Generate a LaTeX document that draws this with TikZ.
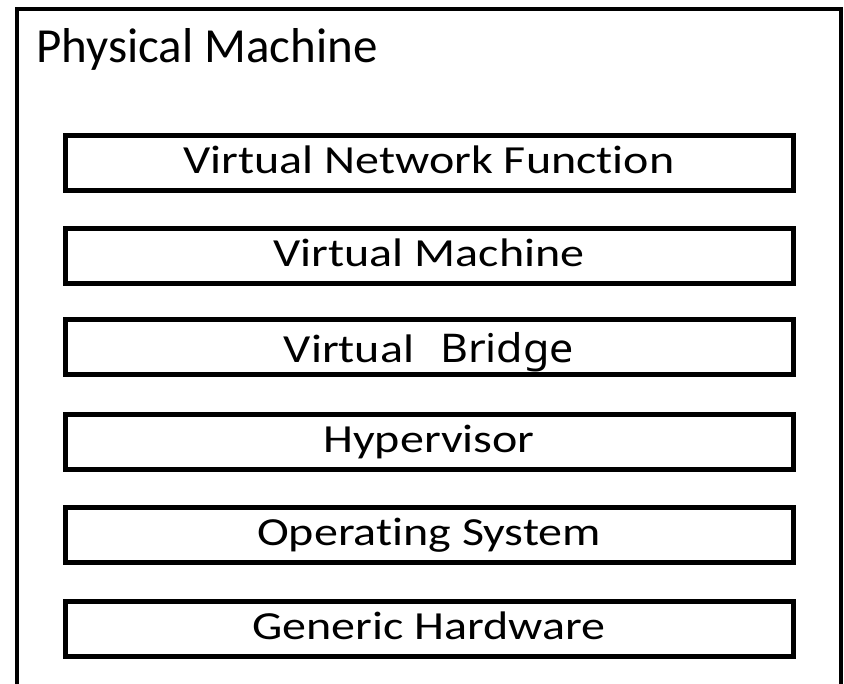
\documentclass[tikz,border=0pt]{standalone}
\usepackage{fontspec}
\setmainfont[Ligatures={NoCommon}]{Carlito}
\newfontfamily\altfont{Noto Sans}
\newcommand{\squash}[1]{\scalebox{1}[0.83]{#1}}
\begin{document}
\begin{tikzpicture}[x=1pt,y=-1pt,
  layer/.style={draw=black, line width=5pt, minimum width=728pt, minimum height=55pt, inner sep=0pt, text height=21pt, text depth=0pt, font=\fontsize{48}{50}\selectfont},
  outer/.style={draw=black, line width=4pt}]
\useasboundingbox (0,0) rectangle (844,684);
\begin{scope}
\clip (0,0) rectangle (844,684);
\draw[outer] (17,9) rectangle (841,720);
\end{scope}
\node[anchor=base west, font=\fontsize{49}{50}\selectfont, inner sep=0pt] (title) at (36,63) {Physical Machine};
\node[layer] (vnf) at (429,163.5) {\squash{Virtual Network Function}};
\node[layer] (vm) at (429,256.5) {\squash{Virtual Machine}};
\node[layer, text height=31pt] (vb) at (429,347.5) {\squash{Virtual}\hspace{26pt}{\altfont\fontsize{43}{50}\selectfont\scalebox{1}[0.92]{Bridge}}\hspace{6pt}};
\node[layer] (hv) at (429,442.5) {\squash{Hypervisor}};
\node[layer] (os) at (429,535) {\squash{Operating System}};
\node[layer] (hw) at (429,629) {\squash{Generic Hardware}};
\end{tikzpicture}
\end{document}
